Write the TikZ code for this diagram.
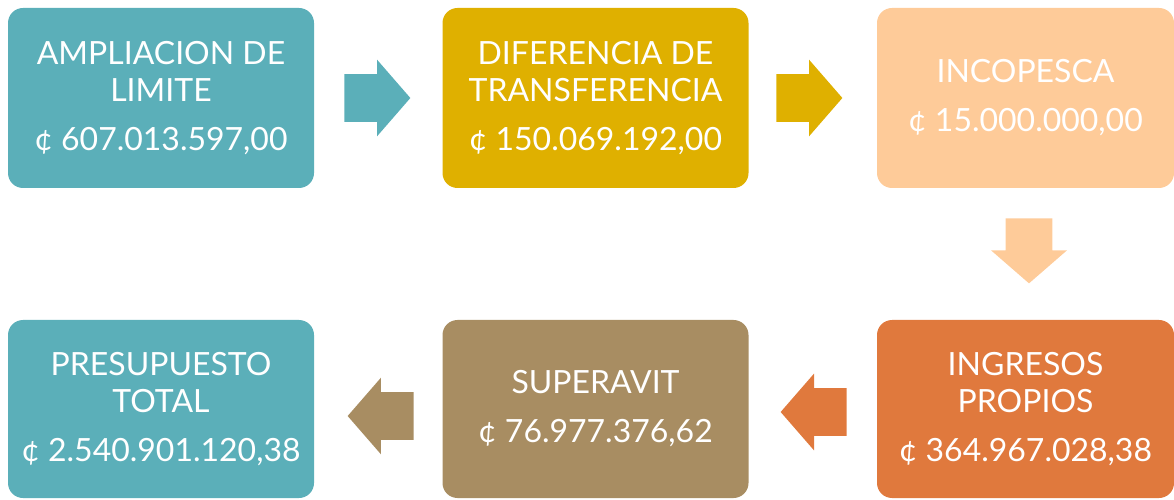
\documentclass[tikz,border=0pt]{standalone}
\usepackage{fontspec}
\setmainfont{Lato}
\usetikzlibrary{shapes.arrows}
\definecolor{tealbox}{RGB}{91,175,185}
\definecolor{goldbox}{RGB}{223,176,0}
\definecolor{peachbox}{RGB}{254,203,153}
\definecolor{orangebox}{RGB}{224,121,61}
\definecolor{tanbox}{RGB}{168,141,98}
\begin{document}
\begin{tikzpicture}[etapa/.style={shape=rectangle,rounded corners=0.3cm,minimum width=6.12cm,minimum height=3.6cm,inner sep=0pt,text=white,align=center,font=\fontsize{18.2}{21}\selectfont},flecha/.style={single arrow,single arrow head extend=0.29cm,single arrow tip angle=98,minimum height=1.32cm,inner xsep=0pt,inner ysep=0.47cm,anchor=tail}]
\useasboundingbox (0,0) rectangle (23.48,-10);
\node[etapa,fill=tealbox] (AL) at (3.22,-1.96) {AMPLIACION DE\\LIMITE\\[6.8pt]¢ 607.013.597,00};
\node[etapa,fill=goldbox] (DT) at (11.91,-1.96) {DIFERENCIA DE\\TRANSFERENCIA\\[6.8pt]¢ 150.069.192,00};
\node[etapa,fill=peachbox,minimum width=5.94cm] (IN) at (20.51,-1.96) {INCOPESCA\\[6.8pt]¢ 15.000.000,00};
\node[etapa,fill=orangebox,minimum width=5.94cm,minimum height=3.56cm] (IP) at (20.51,-8.18) {INGRESOS\\PROPIOS\\[6.8pt]¢ 364.967.028,38};
\node[etapa,fill=tanbox,minimum height=3.56cm] (SU) at (11.91,-8.18) {SUPERAVIT\\[6.8pt]¢ 76.977.376,62};
\node[etapa,fill=tealbox,minimum height=3.56cm] (PT) at (3.22,-8.18) {PRESUPUESTO\\TOTAL\\[6.8pt]¢ 2.540.901.120,38};
\node[flecha,fill=tealbox] (F1) at (6.88,-1.96) {};
\node[flecha,fill=goldbox] (F2) at (15.52,-1.96) {};
\node[flecha,fill=peachbox,shape border rotate=270,minimum height=1.3cm,inner xsep=0.46cm,inner ysep=0pt] (F3) at (20.58,-4.36) {};
\node[flecha,fill=orangebox,shape border rotate=180] (F4) at (16.94,-8.24) {};
\node[flecha,fill=tanbox,shape border rotate=180] (F5) at (8.28,-8.32) {};
\end{tikzpicture}
\end{document}
